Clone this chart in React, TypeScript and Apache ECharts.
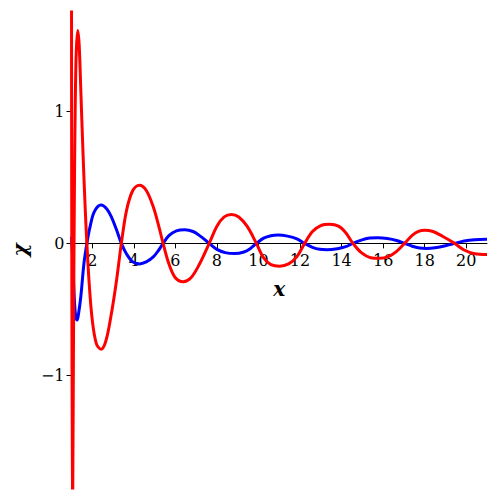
import React, { useEffect, useRef } from "react";
import * as echarts from "echarts";

// Red curve (x, value)
const redX = [1.0, 1.03, 1.06, 1.1, 1.14, 1.18, 1.23, 1.3, 1.37, 1.45, 1.55, 1.65, 1.74, 1.85, 2.0, 2.2, 2.42, 2.65, 2.9, 3.15, 3.4, 3.65, 3.95, 4.27, 4.6, 4.95, 5.2, 5.41, 5.7, 6.0, 6.38, 6.75, 7.15, 7.63, 8.0, 8.35, 8.7, 9.05, 9.45, 9.9, 10.25, 10.6, 11.02, 11.45, 11.85, 12.22, 12.6, 13.0, 13.43, 13.85, 14.2, 14.55, 14.95, 15.4, 15.83, 16.25, 16.65, 17.03, 17.4, 17.7, 18.0, 18.4, 18.9, 19.44, 19.9, 20.4, 21.0];
const redY = [2.4, -2.4, -1.9, -0.6, 0.4, 1.05, 1.45, 1.61, 1.5, 1.15, 0.7, 0.3, 0, -0.3, -0.58, -0.76, -0.8, -0.74, -0.55, -0.3, 0, 0.25, 0.4, 0.44, 0.4, 0.27, 0.13, 0, -0.16, -0.26, -0.29, -0.26, -0.16, 0, 0.13, 0.2, 0.219, 0.2, 0.13, 0, -0.11, -0.16, -0.172, -0.155, -0.1, 0, 0.09, 0.135, 0.144, 0.13, 0.08, 0, -0.07, -0.108, -0.113, -0.1, -0.06, 0, 0.06, 0.09, 0.1, 0.09, 0.05, 0, -0.05, -0.078, -0.084];

// Blue curve (x, value)
const blueX = [1.0, 1.07, 1.13, 1.2, 1.27, 1.35, 1.45, 1.6, 1.74, 1.9, 2.1, 2.42, 2.7, 2.95, 3.15, 3.4, 3.65, 3.95, 4.27, 4.6, 4.95, 5.2, 5.41, 5.7, 6.05, 6.45, 6.85, 7.2, 7.63, 8.0, 8.4, 8.85, 9.3, 9.6, 9.9, 10.25, 10.6, 10.95, 11.4, 11.85, 12.22, 12.6, 12.95, 13.3, 13.8, 14.2, 14.55, 14.95, 15.35, 15.75, 16.2, 16.65, 17.03, 17.4, 17.75, 18.1, 18.5, 19.0, 19.44, 19.9, 20.4, 21.0];
const blueY = [0.05, -0.15, -0.4, -0.55, -0.58, -0.52, -0.4, -0.15, 0, 0.13, 0.24, 0.29, 0.26, 0.19, 0.11, 0, -0.08, -0.14, -0.155, -0.14, -0.1, -0.05, 0, 0.06, 0.095, 0.103, 0.09, 0.055, 0, -0.045, -0.07, -0.077, -0.065, -0.04, 0, 0.04, 0.058, 0.063, 0.055, 0.035, 0, -0.03, -0.045, -0.048, -0.04, -0.025, 0, 0.025, 0.04, 0.043, 0.037, 0.022, 0, -0.022, -0.035, -0.038, -0.033, -0.018, 0, 0.018, 0.028, 0.031];

const xTicks = [2, 4, 6, 8, 10, 12, 14, 16, 18, 20];
const yTicks = [-1, 0, 1];

const FONT = "DejaVu Serif";
const Y_MIN = -1.85;
const Y_MAX = 1.75;
const GRID_TOP = 12;
const GRID_BOTTOM = 12;
const CHART_H = 500;

export default function App() {
  const ref = useRef<HTMLDivElement>(null);
  useEffect(() => {
    if (!ref.current) return;
    const chart = echarts.init(ref.current, null, { renderer: "svg" });
    const red = redX.map((x, i) => [x, redY[i]]);
    const blue = blueX.map((x, i) => [x, blueY[i]]);
    const gridH = CHART_H - GRID_TOP - GRID_BOTTOM;
    // move the x axis up from the grid bottom to the zero line
    const zeroOffset = -((0 - Y_MIN) / (Y_MAX - Y_MIN)) * gridH;
    chart.setOption({
      animation: false,
      backgroundColor: "#ffffff",
      grid: { left: 71.5, right: 13, top: GRID_TOP, bottom: GRID_BOTTOM, containLabel: false, outerBoundsMode: "none" },
      xAxis: {
        type: "value",
        min: 1,
        max: 21,
        position: "bottom",
        offset: zeroOffset,
        name: "x",
        nameLocation: "middle",
        nameGap: 36,
        nameTextStyle: { fontFamily: FONT, fontSize: 20, fontWeight: "bold", fontStyle: "italic", color: "#000" },
        axisLine: { onZero: false, lineStyle: { color: "#000", width: 1 } },
        axisTick: { show: true, length: 5, inside: false, customValues: xTicks, lineStyle: { color: "#000" } },
        axisLabel: { customValues: xTicks, margin: 9, fontFamily: FONT, fontSize: 16, color: "#000" },
        splitLine: { show: false },
      },
      yAxis: {
        type: "value",
        min: Y_MIN,
        max: Y_MAX,
        name: "χ",
        nameLocation: "middle",
        nameGap: 32,
        nameTextStyle: { fontFamily: FONT, fontSize: 20, fontWeight: "bold", fontStyle: "italic", color: "#000" },
        axisLine: { show: true, onZero: false, lineStyle: { color: "#000", width: 1 } },
        axisTick: { show: true, length: 5, customValues: yTicks, lineStyle: { color: "#000" } },
        axisLabel: {
          customValues: yTicks,
          margin: 7,
          fontFamily: FONT,
          fontSize: 16,
          color: "#000",
          formatter: (v: number) => (v < 0 ? "\u2212" + Math.abs(v) : String(v)),
        },
        splitLine: { show: false },
      },
      series: [
        {
          type: "line",
          data: blue,
          smooth: 0.35,
          showSymbol: false,
          clip: true,
          lineStyle: { color: "#0000ff", width: 3 },
        },
        {
          type: "line",
          data: red,
          smooth: 0.35,
          showSymbol: false,
          clip: true,
          lineStyle: { color: "#ff0000", width: 3 },
        },
      ],
    });
    return () => chart.dispose();
  }, []);
  return <div ref={ref} style={{ width: 500, height: CHART_H, position: "absolute", left: 0, top: 0 }} />;
}
